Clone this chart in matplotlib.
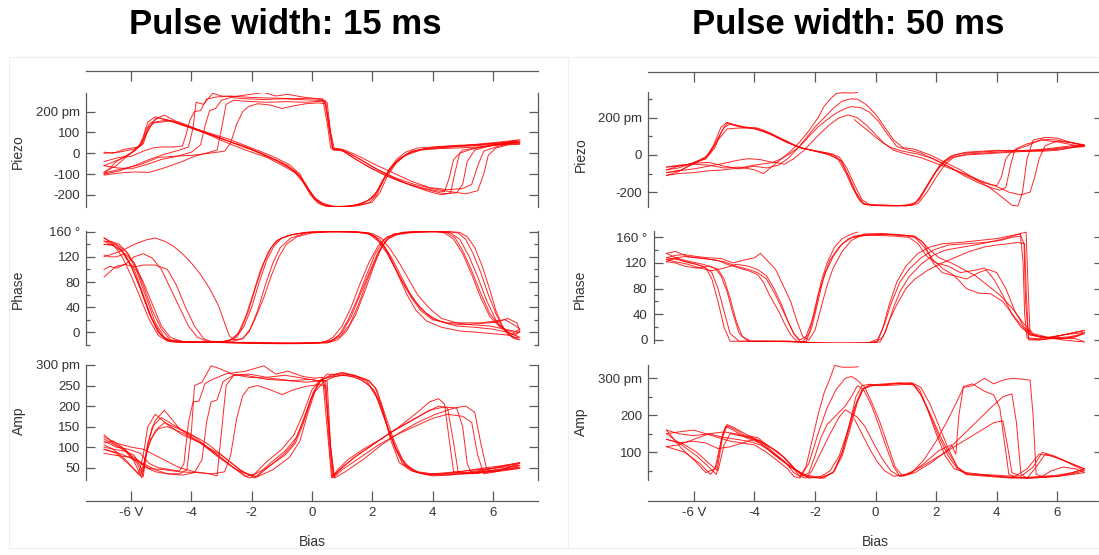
import matplotlib.pyplot as plt
from matplotlib.patches import Rectangle

plt.rcParams["font.family"] = ["Liberation Sans", "DejaVu Sans"]

# %% data: bias (V) / signal pairs, one list per sweep
piezo_15 = [
    [(-6.9, -100), (-6.4, -85), (-5.9, -60), (-5.4, -30), (-4.9, -5), (-4.4, 15), (-4.1, 30), (-3.95, 120),
     (-3.85, 245), (-3.6, 235), (-3.3, 288), (-3.0, 275), (-2.6, 272), (-2.1, 282), (-1.6, 292), (-1.2, 275),
     (-0.8, 283), (-0.3, 270), (0.1, 262), (0.35, 262), (0.5, 150), (0.62, 25), (0.9, 22), (1.3, -15),
     (1.8, -60), (2.4, -105), (3.0, -140), (3.6, -165), (4.1, -180), (4.4, -185), (4.55, -120), (4.7, -30),
     (5.0, 15), (5.6, 30), (6.2, 42), (6.9, 52),
     (6.3, 45), (5.6, 38), (5.0, 33), (4.4, 28), (3.8, 22), (3.3, 10), (2.9, -25), (2.6, -70), (2.3, -140),
     (2.1, -200), (1.8, -232), (1.4, -252), (1.0, -258), (0.6, -257), (0.3, -245), (0.05, -210), (-0.2, -150),
     (-0.45, -100), (-0.8, -60), (-1.3, -25), (-2.0, 20), (-2.6, 50), (-3.2, 80), (-3.8, 110), (-4.4, 145),
     (-4.9, 183), (-5.2, 165), (-5.45, 110), (-5.6, 45), (-5.9, 20), (-6.4, 5), (-6.9, 0)],
    [(-6.9, -60), (-6.5, -70), (-6.0, -75), (-5.5, -55), (-5.0, -30), (-4.5, -15), (-4.0, 5), (-3.7, 40),
     (-3.55, 130), (-3.4, 205), (-3.2, 215), (-3.0, 255), (-2.7, 268), (-2.2, 262), (-1.6, 258), (-1.0, 262),
     (-0.4, 258), (0.1, 255), (0.45, 252), (0.58, 120), (0.7, 20), (1.0, 15), (1.5, -20), (2.0, -65),
     (2.6, -110), (3.2, -150), (3.8, -175), (4.4, -195), (4.8, -190), (5.0, -150), (5.15, -40), (5.4, 15),
     (5.9, 35), (6.4, 45), (6.9, 60),
     (6.2, 48), (5.5, 40), (4.8, 35), (4.1, 30), (3.6, 18), (3.2, 0), (2.8, -40), (2.5, -95), (2.2, -175),
     (1.9, -225), (1.5, -248), (1.1, -256), (0.7, -255), (0.35, -240), (0.1, -215), (-0.15, -165),
     (-0.4, -115), (-0.7, -75), (-1.2, -35), (-1.9, 10), (-2.6, 48), (-3.3, 88), (-4.0, 125), (-4.6, 150),
     (-5.1, 170), (-5.4, 140), (-5.6, 60), (-5.9, 10), (-6.4, -30), (-6.9, -60)],
    [(-6.9, -105), (-6.4, -95), (-5.9, -90), (-5.4, -92), (-4.9, -70), (-4.4, -45), (-3.9, -15), (-3.4, 5),
     (-3.15, 15), (-3.0, 120), (-2.85, 235), (-2.6, 255), (-2.2, 250), (-1.5, 245), (-0.8, 248), (-0.2, 245),
     (0.3, 250), (0.5, 245), (0.62, 100), (0.75, 15), (1.1, 10), (1.6, -30), (2.2, -80), (2.8, -120),
     (3.4, -150), (4.0, -170), (4.6, -185), (5.1, -195), (5.5, -180), (5.7, -100), (5.85, -10), (6.1, 25),
     (6.5, 40), (6.9, 45),
     (6.2, 40), (5.5, 30), (4.8, 25), (4.2, 22), (3.6, 15), (3.1, -10), (2.8, -45), (2.5, -110), (2.25, -190),
     (2.0, -235), (1.6, -250), (1.2, -256), (0.8, -257), (0.45, -250), (0.15, -225), (-0.1, -180),
     (-0.35, -120), (-0.6, -85), (-1.0, -45), (-1.7, 0), (-2.4, 40), (-3.1, 75), (-3.8, 115), (-4.4, 150),
     (-4.8, 160), (-5.2, 150), (-5.5, 120), (-5.65, 40), (-6.0, 0), (-6.5, -40), (-6.9, -100)],
    [(-6.9, -95), (-6.3, -75), (-5.7, -55), (-5.1, -20), (-4.6, -15), (-4.0, -10), (-3.4, 0), (-2.9, 10),
     (-2.7, 50), (-2.5, 140), (-2.3, 200), (-2.1, 225), (-1.8, 238), (-1.4, 232), (-1.0, 215), (-0.6, 228),
     (-0.2, 238), (0.2, 242), (0.45, 238), (0.55, 130), (0.68, 20), (0.95, 18), (1.4, -25), (2.0, -75),
     (2.6, -115), (3.3, -155), (3.9, -185), (4.3, -200), (4.6, -190), (4.75, -90), (4.9, 0), (5.3, 20),
     (5.9, 35), (6.4, 50), (6.9, 65),
     (6.3, 55), (5.6, 45), (4.9, 35), (4.3, 28), (3.7, 20), (3.3, 5), (3.0, -20), (2.7, -60), (2.4, -120),
     (2.15, -200), (1.9, -238), (1.5, -252), (1.1, -257), (0.7, -256), (0.4, -248), (0.1, -225),
     (-0.15, -170), (-0.4, -100), (-0.75, -55), (-1.3, -15), (-2.0, 25), (-2.8, 70), (-3.6, 105),
     (-4.3, 135), (-4.8, 160), (-5.2, 175), (-5.45, 150), (-5.6, 80), (-5.75, 30), (-6.2, 20), (-6.6, 0),
     (-6.9, 5)],
    [(-6.9, -40), (-6.4, -20), (-6.0, -15), (-5.6, 10), (-5.3, 25), (-5.0, 30), (-4.6, 30), (-4.3, 35),
     (-4.2, 80), (-4.05, 160), (-3.9, 200), (-3.7, 205), (-3.5, 260), (-3.2, 270), (-2.7, 275), (-2.0, 268),
     (-1.3, 265), (-0.6, 262), (0.0, 265), (0.4, 255), (0.55, 160), (0.7, 15), (1.0, 20), (1.5, -10),
     (2.1, -55), (2.7, -95), (3.3, -135), (3.9, -165), (4.5, -175), (5.0, -170), (5.3, -150), (5.5, -60),
     (5.7, 10), (6.1, 30), (6.5, 45), (6.9, 55),
     (6.2, 50), (5.5, 42), (4.8, 38), (4.0, 30), (3.5, 25), (3.1, 5), (2.8, -30), (2.55, -80), (2.3, -150),
     (2.05, -210), (1.7, -240), (1.3, -252), (0.9, -256), (0.5, -257), (0.2, -240), (-0.05, -200),
     (-0.3, -140), (-0.55, -95), (-0.9, -65), (-1.5, -20), (-2.2, 15), (-2.9, 55), (-3.6, 100), (-4.2, 130),
     (-4.7, 155), (-5.0, 150), (-5.3, 145), (-5.5, 90), (-5.7, 40), (-6.1, -10), (-6.5, -60), (-6.9, -90)],
]

phase_15 = [
    [(-6.9, 150), (-6.6, 140), (-6.3, 120), (-6.0, 90), (-5.7, 55), (-5.4, 20), (-5.1, -5), (-4.8, -14),
     (-4.3, -16), (-3.5, -16), (-2.9, -15), (-2.6, -10), (-2.35, 5), (-2.1, 35), (-1.85, 75), (-1.6, 110),
     (-1.35, 135), (-1.1, 148), (-0.7, 155), (-0.2, 159), (0.5, 160), (1.2, 160), (1.8, 158), (2.1, 152),
     (2.4, 135), (2.7, 108), (3.0, 80), (3.3, 55), (3.6, 35), (4.0, 20), (4.5, 15), (5.0, 15), (5.6, 15),
     (6.1, 18), (6.4, 20), (6.7, 12), (6.9, 5),
     (6.7, 0), (6.45, 3), (6.2, 12), (5.9, 30), (5.6, 62), (5.3, 98), (5.0, 130), (4.75, 150), (4.5, 158),
     (4.2, 160), (3.5, 160), (3.1, 159), (2.7, 156), (2.4, 148), (2.1, 125), (1.8, 90), (1.5, 52), (1.2, 20),
     (0.9, -5), (0.6, -15), (0.2, -17), (-0.8, -17), (-1.9, -16), (-3.0, -16), (-4.0, -16), (-4.7, -15),
     (-5.0, -5), (-5.3, 20), (-5.6, 60), (-5.9, 100), (-6.3, 130), (-6.6, 143), (-6.9, 145)],
    [(-6.9, 140), (-6.5, 140), (-6.2, 130), (-5.9, 110), (-5.6, 75), (-5.3, 35), (-5.0, 5), (-4.7, -12),
     (-4.2, -15), (-3.4, -16), (-2.8, -14), (-2.5, -8), (-2.25, 10), (-2.0, 40), (-1.75, 80), (-1.5, 115),
     (-1.25, 138), (-1.0, 150), (-0.6, 156), (0.0, 160), (0.8, 160), (1.5, 159), (1.9, 156), (2.2, 145),
     (2.5, 125), (2.8, 98), (3.1, 72), (3.4, 50), (3.8, 30), (4.2, 18), (4.8, 10), (5.4, 8), (6.0, 5),
     (6.5, 0), (6.9, -8),
     (6.7, -8), (6.5, -2), (6.3, 10), (6.1, 30), (5.85, 60), (5.6, 95), (5.35, 125), (5.1, 148), (4.85, 158),
     (4.5, 160), (3.9, 160), (3.2, 158), (2.8, 155), (2.5, 148), (2.2, 128), (1.9, 95), (1.6, 60), (1.3, 25),
     (1.0, 0), (0.7, -12), (0.3, -16), (-0.5, -17), (-1.5, -17), (-2.5, -16), (-3.5, -16), (-4.3, -15),
     (-4.7, -8), (-5.0, 10), (-5.3, 45), (-5.6, 80), (-5.9, 110), (-6.2, 125), (-6.5, 120), (-6.7, 120),
     (-6.9, 123)],
    [(-6.9, 120), (-6.6, 125), (-6.3, 130), (-5.9, 140), (-5.5, 147), (-5.2, 150), (-4.9, 145), (-4.6, 137),
     (-4.3, 125), (-4.0, 110), (-3.7, 92), (-3.4, 70), (-3.1, 42), (-2.9, 15), (-2.75, -5), (-2.6, -12),
     (-2.3, -10), (-2.1, 0), (-1.9, 20), (-1.6, 55), (-1.35, 90), (-1.1, 120), (-0.85, 140), (-0.5, 152),
     (0.0, 158), (0.6, 160), (1.4, 160), (2.0, 157), (2.3, 150), (2.6, 132), (2.9, 110), (3.2, 85),
     (3.5, 60), (3.9, 38), (4.3, 22), (4.8, 15), (5.3, 12), (5.9, 10), (6.4, 5), (6.9, 0),
     (6.6, -3), (6.35, 5), (6.1, 20), (5.8, 50), (5.5, 88), (5.2, 122), (4.9, 148), (4.6, 158), (4.3, 160),
     (3.6, 161), (3.0, 159), (2.5, 152), (2.2, 138), (1.9, 112), (1.6, 78), (1.3, 40), (1.0, 10), (0.7, -8),
     (0.4, -16), (-0.5, -18), (-1.6, -18), (-2.6, -17), (-3.3, -16), (-3.6, -10), (-3.9, 10), (-4.2, 40),
     (-4.5, 75), (-4.8, 100), (-5.2, 107), (-5.6, 107), (-5.9, 104), (-6.2, 108), (-6.5, 105), (-6.9, 88)],
    [(-6.9, 100), (-6.7, 105), (-6.5, 102), (-6.2, 108), (-5.9, 120), (-5.6, 125), (-5.3, 118), (-5.0, 100),
     (-4.7, 70), (-4.4, 40), (-4.1, 10), (-3.8, -8), (-3.5, -14), (-3.0, -15), (-2.6, -14), (-2.3, -10),
     (-2.05, 5), (-1.8, 35), (-1.55, 75), (-1.3, 110), (-1.05, 135), (-0.7, 150), (-0.2, 158), (0.6, 160),
     (1.5, 160), (1.9, 158), (2.25, 148), (2.55, 125), (2.85, 92), (3.15, 60), (3.45, 35), (3.8, 18),
     (4.3, 8), (4.9, 2), (5.5, 0), (6.2, -3), (6.6, -5), (6.9, -12),
     (6.7, -10), (6.5, -3), (6.3, 12), (6.1, 35), (5.9, 68), (5.65, 105), (5.4, 135), (5.15, 152),
     (4.9, 159), (4.6, 160), (3.9, 160), (3.3, 159), (2.9, 157), (2.55, 150), (2.3, 135), (2.05, 105),
     (1.75, 65), (1.45, 28), (1.15, 2), (0.85, -12), (0.5, -17), (-0.3, -18), (-1.2, -18), (-2.2, -17),
     (-3.2, -16), (-4.2, -16), (-4.8, -13), (-5.1, 0), (-5.4, 30), (-5.7, 70), (-6.0, 105), (-6.3, 130),
     (-6.6, 138), (-6.9, 140)],
    [(-6.9, 145), (-6.6, 138), (-6.3, 128), (-6.0, 105), (-5.7, 70), (-5.4, 30), (-5.1, 0), (-4.8, -13),
     (-4.3, -15), (-3.6, -15), (-3.0, -15), (-2.7, -12), (-2.45, -2), (-2.2, 25), (-1.95, 62), (-1.7, 100),
     (-1.45, 128), (-1.2, 145), (-0.8, 154), (-0.3, 158), (0.4, 160), (1.2, 160), (1.8, 158), (2.05, 153),
     (2.35, 140), (2.65, 118), (2.95, 90), (3.25, 62), (3.6, 38), (4.0, 22), (4.5, 14), (5.0, 12),
     (5.6, 14), (6.1, 16), (6.5, 22), (6.8, 15), (6.9, 2),
     (6.75, -5), (6.5, 0), (6.2, 10), (5.9, 25), (5.6, 55), (5.3, 92), (5.0, 125), (4.7, 148), (4.4, 158),
     (4.1, 160), (3.5, 160), (3.0, 158), (2.7, 156), (2.45, 146), (2.15, 120), (1.85, 85), (1.55, 45),
     (1.25, 12), (0.95, -6), (0.6, -15), (0.1, -17), (-1.0, -18), (-2.0, -17), (-3.0, -16), (-4.0, -16),
     (-4.6, -15), (-4.9, -8), (-5.2, 15), (-5.5, 55), (-5.8, 95), (-6.1, 125), (-6.4, 140), (-6.7, 145),
     (-6.9, 150)],
]

amp_15 = [
    [(-6.9, 100), (-6.6, 95), (-6.2, 90), (-5.8, 70), (-5.5, 50), (-5.2, 40), (-4.8, 35), (-4.4, 35),
     (-4.15, 45), (-4.0, 140), (-3.9, 250), (-3.65, 258), (-3.35, 298), (-3.1, 292), (-2.7, 280), (-2.2, 285),
     (-1.6, 298), (-1.2, 278), (-0.8, 285), (-0.3, 272), (0.1, 268), (0.35, 270), (0.5, 150), (0.65, 25),
     (0.85, 45), (1.2, 70), (1.7, 95), (2.3, 120), (2.9, 150), (3.5, 185), (3.9, 210), (4.2, 218),
     (4.4, 205), (4.55, 120), (4.7, 40), (5.0, 35), (5.6, 38), (6.2, 45), (6.9, 50),
     (6.4, 48), (5.8, 42), (5.2, 38), (4.6, 32), (4.0, 30), (3.5, 38), (3.1, 55), (2.8, 90), (2.5, 150),
     (2.2, 215), (1.9, 250), (1.5, 270), (1.1, 275), (0.7, 272), (0.3, 265), (0.05, 230), (-0.25, 170),
     (-0.6, 110), (-0.9, 85), (-1.3, 60), (-1.8, 30), (-2.1, 25), (-2.6, 50), (-3.2, 85), (-3.8, 115),
     (-4.4, 145), (-4.9, 190), (-5.2, 165), (-5.45, 110), (-5.6, 28), (-5.8, 60), (-6.2, 95), (-6.6, 110),
     (-6.9, 130)],
    [(-6.9, 85), (-6.5, 80), (-6.0, 75), (-5.6, 60), (-5.2, 45), (-4.8, 35), (-4.3, 32), (-3.9, 38),
     (-3.65, 70), (-3.5, 160), (-3.35, 210), (-3.15, 215), (-2.95, 260), (-2.6, 275), (-2.1, 278), (-1.5, 270),
     (-0.9, 275), (-0.3, 268), (0.15, 262), (0.45, 262), (0.6, 110), (0.72, 30), (1.0, 50), (1.5, 80),
     (2.1, 110), (2.7, 140), (3.3, 165), (3.9, 190), (4.4, 198), (4.8, 195), (5.0, 150), (5.15, 60),
     (5.3, 35), (5.8, 40), (6.3, 45), (6.9, 48),
     (6.3, 42), (5.7, 38), (5.1, 35), (4.5, 33), (3.9, 32), (3.4, 40), (3.0, 60), (2.7, 110), (2.4, 170),
     (2.1, 230), (1.8, 262), (1.4, 275), (1.0, 280), (0.6, 272), (0.25, 262), (0.0, 240), (-0.3, 180),
     (-0.6, 130), (-1.0, 95), (-1.5, 65), (-1.9, 35), (-2.2, 28), (-2.7, 55), (-3.3, 90), (-3.9, 125),
     (-4.5, 150), (-5.0, 172), (-5.3, 150), (-5.5, 90), (-5.65, 25), (-5.9, 65), (-6.3, 100), (-6.6, 115),
     (-6.9, 110)],
    [(-6.9, 125), (-6.5, 110), (-6.0, 100), (-5.6, 95), (-5.2, 80), (-4.8, 65), (-4.4, 50), (-3.9, 40),
     (-3.4, 35), (-3.15, 30), (-3.0, 140), (-2.85, 250), (-2.6, 275), (-2.2, 275), (-1.5, 265), (-0.8, 262),
     (-0.2, 258), (0.3, 262), (0.5, 262), (0.62, 100), (0.75, 25), (1.1, 40), (1.7, 70), (2.3, 105),
     (2.9, 135), (3.5, 160), (4.1, 180), (4.7, 195), (5.1, 200), (5.4, 185), (5.6, 110), (5.8, 45),
     (6.1, 40), (6.5, 50), (6.9, 60),
     (6.3, 52), (5.7, 45), (5.1, 38), (4.5, 35), (3.9, 33), (3.3, 42), (2.9, 62), (2.6, 120), (2.35, 190),
     (2.1, 245), (1.8, 265), (1.4, 275), (1.0, 282), (0.6, 275), (0.3, 262), (0.05, 235), (-0.2, 185),
     (-0.5, 125), (-0.9, 90), (-1.4, 60), (-1.85, 28), (-2.3, 40), (-2.9, 75), (-3.5, 110), (-4.1, 135),
     (-4.6, 150), (-4.9, 160), (-5.2, 140), (-5.45, 100), (-5.6, 40), (-5.9, 80), (-6.3, 95), (-6.9, 120)],
    [(-6.9, 95), (-6.4, 85), (-5.9, 70), (-5.4, 48), (-4.9, 45), (-4.4, 40), (-3.8, 38), (-3.3, 35),
     (-2.9, 40), (-2.7, 80), (-2.5, 170), (-2.3, 225), (-2.1, 245), (-1.8, 250), (-1.4, 240), (-1.0, 228),
     (-0.6, 240), (-0.2, 248), (0.2, 252), (0.45, 250), (0.55, 130), (0.68, 28), (0.95, 48), (1.4, 75),
     (2.0, 105), (2.6, 135), (3.2, 160), (3.8, 185), (4.2, 200), (4.5, 195), (4.7, 110), (4.85, 40),
     (5.2, 35), (5.8, 45), (6.4, 55), (6.9, 62),
     (6.3, 55), (5.6, 48), (4.9, 40), (4.3, 35), (3.7, 35), (3.3, 45), (3.0, 70), (2.7, 120), (2.4, 185),
     (2.15, 240), (1.9, 262), (1.5, 272), (1.1, 278), (0.7, 270), (0.4, 260), (0.1, 235), (-0.15, 180),
     (-0.4, 115), (-0.75, 75), (-1.3, 45), (-1.9, 25), (-2.4, 45), (-3.0, 80), (-3.7, 110), (-4.3, 130),
     (-4.8, 155), (-5.2, 180), (-5.45, 150), (-5.6, 80), (-5.75, 35), (-6.2, 70), (-6.6, 95), (-6.9, 105)],
    [(-6.9, 115), (-6.5, 100), (-6.1, 95), (-5.7, 85), (-5.4, 60), (-5.1, 50), (-4.7, 45), (-4.4, 42),
     (-4.25, 60), (-4.1, 160), (-3.95, 210), (-3.75, 212), (-3.55, 255), (-3.3, 265), (-2.8, 280),
     (-2.1, 270), (-1.4, 268), (-0.7, 262), (0.0, 265), (0.4, 258), (0.55, 160), (0.7, 25), (1.0, 45),
     (1.6, 75), (2.2, 105), (2.8, 130), (3.4, 150), (4.0, 170), (4.5, 180), (5.0, 175), (5.3, 160),
     (5.5, 80), (5.7, 35), (6.1, 40), (6.5, 50), (6.9, 55),
     (6.2, 50), (5.5, 45), (4.8, 40), (4.0, 35), (3.5, 40), (3.1, 58), (2.8, 95), (2.55, 140), (2.3, 200),
     (2.05, 240), (1.7, 262), (1.3, 272), (0.9, 276), (0.5, 278), (0.2, 255), (-0.05, 215), (-0.3, 155),
     (-0.55, 110), (-0.9, 80), (-1.5, 50), (-2.0, 30), (-2.5, 45), (-3.1, 75), (-3.7, 110), (-4.3, 135),
     (-4.8, 150), (-5.1, 145), (-5.35, 120), (-5.55, 70), (-5.7, 30), (-6.1, 60), (-6.5, 85), (-6.9, 95)],
]

piezo_50 = [
    [(-0.7, 190), (-0.4, 150), (-0.1, 110), (0.2, 70), (0.5, 40), (0.9, 20), (1.4, 5), (1.9, -20),
     (2.4, -60), (2.9, -110), (3.4, -150), (3.8, -175), (4.1, -190), (4.3, -175), (4.45, -60), (4.6, 30),
     (5.0, 60), (5.5, 80), (6.0, 70), (6.5, 55), (6.9, 45),
     (6.5, 40), (6.0, 30), (5.5, 25), (5.0, 20), (4.5, 15), (4.0, 10), (3.5, 5), (3.0, 0), (2.5, -15),
     (2.1, -60), (1.8, -140), (1.5, -220), (1.25, -268), (0.8, -272), (0.3, -270), (-0.2, -268),
     (-0.45, -240), (-0.7, -160), (-0.95, -70), (-1.2, -10), (-1.6, 10), (-2.1, 25), (-2.5, 40), (-3.0, 80),
     (-3.5, 120), (-3.9, 145), (-4.3, 150), (-4.6, 160), (-4.9, 170), (-5.1, 120), (-5.3, 40), (-5.6, -20),
     (-6.0, -40), (-6.5, -70), (-6.9, -80)],
    [(-6.9, -80), (-6.5, -60), (-6.0, -45), (-5.5, -40), (-5.0, -60), (-4.5, -75), (-4.0, -60), (-3.6, -70),
     (-3.2, -55), (-2.9, -20), (-2.6, 30), (-2.3, 90), (-2.0, 150), (-1.7, 200), (-1.4, 250), (-1.1, 290),
     (-0.8, 302), (-0.6, 300), (-0.3, 270), (0.0, 220), (0.3, 150), (0.6, 80), (0.9, 40), (1.3, 30),
     (1.8, 0), (2.3, -40), (2.8, -80), (3.3, -130), (3.8, -180), (4.2, -230), (4.5, -270), (4.7, -275),
     (4.85, -200), (5.0, -20), (5.2, 80), (5.6, 95), (6.0, 90), (6.4, 70), (6.9, 50),
     (6.5, 40), (6.0, 25), (5.5, 20), (5.0, 20), (4.4, 25), (3.9, 20), (3.4, 15), (2.9, 10), (2.5, -5),
     (2.2, -40), (1.9, -110), (1.6, -190), (1.35, -255), (1.0, -270), (0.5, -275), (0.0, -272),
     (-0.4, -265), (-0.6, -225), (-0.85, -130), (-1.1, -40), (-1.4, 5), (-1.9, 20), (-2.4, 35), (-2.9, 65),
     (-3.4, 105), (-3.9, 140), (-4.4, 148), (-4.8, 165), (-5.0, 150), (-5.3, 60), (-5.6, -10), (-6.1, -50),
     (-6.5, -90), (-6.9, -110)],
    [(-6.9, -110), (-6.5, -100), (-6.0, -95), (-5.5, -85), (-5.0, -80), (-4.5, -70), (-4.0, -55),
     (-3.6, -45), (-3.3, -40), (-3.0, -50), (-2.7, -20), (-2.4, 20), (-2.1, 70), (-1.8, 120), (-1.5, 165),
     (-1.2, 200), (-0.9, 215), (-0.6, 200), (-0.3, 160), (0.0, 110), (0.3, 60), (0.6, 25), (1.0, 5),
     (1.5, -15), (2.0, -45), (2.5, -75), (3.0, -105), (3.5, -140), (4.0, -170), (4.4, -200), (4.8, -215),
     (5.1, -200), (5.25, -120), (5.4, -20), (5.6, 50), (6.0, 75), (6.5, 65), (6.9, 55),
     (6.5, 50), (6.0, 40), (5.5, 30), (5.0, 25), (4.5, 22), (4.0, 25), (3.5, 20), (3.0, 15), (2.6, 0),
     (2.3, -30), (2.0, -90), (1.7, -170), (1.45, -240), (1.2, -270), (0.7, -273), (0.2, -270), (-0.3, -268),
     (-0.5, -250), (-0.75, -180), (-1.0, -90), (-1.25, -20), (-1.6, 5), (-2.1, 25), (-2.6, 45), (-3.1, 85),
     (-3.6, 125), (-4.0, 145), (-4.5, 145), (-4.9, 140), (-5.2, 80), (-5.5, 0), (-5.9, -40), (-6.4, -80),
     (-6.9, -95)],
    [(-6.9, -95), (-6.5, -85), (-6.0, -75), (-5.5, -60), (-5.0, -45), (-4.6, -30), (-4.2, -20), (-3.8, -25),
     (-3.4, -40), (-3.1, -20), (-2.8, 10), (-2.5, 45), (-2.2, 100), (-1.9, 150), (-1.6, 190), (-1.3, 225),
     (-1.0, 250), (-0.8, 260), (-0.5, 255), (-0.2, 230), (0.1, 180), (0.4, 110), (0.7, 45), (1.0, 30),
     (1.5, 10), (2.0, -30), (2.5, -70), (3.0, -110), (3.4, -140), (3.8, -160), (4.0, -165), (4.15, -120),
     (4.3, -20), (4.5, 20), (5.0, 50), (5.5, 85), (6.0, 80), (6.5, 65), (6.9, 50),
     (6.5, 45), (6.0, 35), (5.5, 28), (5.0, 22), (4.5, 20), (4.0, 15), (3.5, 10), (3.0, 5), (2.6, -10),
     (2.3, -50), (2.0, -120), (1.7, -200), (1.4, -262), (1.0, -275), (0.5, -272), (0.0, -270), (-0.4, -262),
     (-0.65, -200), (-0.9, -110), (-1.15, -30), (-1.5, 0), (-2.0, 20), (-2.5, 40), (-3.0, 75), (-3.5, 115),
     (-4.0, 140), (-4.5, 155), (-4.9, 175), (-5.1, 150), (-5.35, 50), (-5.6, -20), (-6.0, -45), (-6.5, -60),
     (-6.9, -65)],
    [(-6.9, -65), (-6.5, -55), (-6.0, -50), (-5.5, -55), (-5.0, -70), (-4.5, -65), (-4.0, -80), (-3.7, -100),
     (-3.4, -60), (-3.1, -20), (-2.8, 20), (-2.5, 70), (-2.2, 130), (-1.9, 200), (-1.7, 260), (-1.5, 300),
     (-1.3, 330), (-1.1, 335), (-0.8, 333), (-0.6, 336)],
]

phase_50 = [
    [(-0.7, 160), (-0.3, 163), (0.3, 165), (0.9, 163), (1.3, 160), (1.6, 145), (1.9, 125), (2.2, 112),
     (2.6, 100), (3.0, 80), (3.4, 73), (3.8, 72), (4.2, 60), (4.6, 35), (5.0, 12), (5.4, 5), (5.9, 3),
     (6.4, 5), (6.9, 10),
     (6.6, 5), (6.2, 2), (5.8, 2), (5.4, 0), (5.05, 2), (4.95, 60), (4.9, 150), (4.8, 162), (4.5, 160),
     (4.1, 155), (3.6, 152), (3.0, 150), (2.4, 148), (1.9, 140), (1.5, 128), (1.1, 110), (0.8, 90),
     (0.5, 55), (0.3, 25), (0.1, 2), (-0.2, -4), (-0.8, -5), (-1.5, -5), (-2.2, -4), (-2.8, -2), (-3.5, -2),
     (-4.2, -2), (-4.8, -2), (-5.0, 20), (-5.2, 60), (-5.4, 95), (-5.6, 112), (-5.9, 118), (-6.3, 122),
     (-6.6, 128), (-6.9, 135)],
    [(-6.9, 135), (-6.6, 138), (-6.2, 130), (-5.8, 128), (-5.4, 125), (-5.0, 122), (-4.6, 115), (-4.2, 110),
     (-3.9, 105), (-3.6, 95), (-3.3, 70), (-3.0, 40), (-2.7, 10), (-2.5, -2), (-2.3, -3), (-2.1, 20),
     (-1.9, 60), (-1.7, 100), (-1.5, 125), (-1.2, 145), (-0.9, 158), (-0.5, 163), (0.0, 163), (0.6, 162),
     (1.1, 160), (1.4, 150), (1.7, 130), (2.0, 120), (2.4, 115), (2.8, 105), (3.2, 108), (3.6, 112),
     (3.9, 95), (4.2, 70), (4.5, 40), (4.8, 20), (5.1, 8), (5.6, 3), (6.1, 2), (6.6, 5), (6.9, 12),
     (6.6, 10), (6.2, 8), (5.8, 5), (5.4, 2), (5.0, 3), (4.92, 40), (4.87, 120), (4.78, 165), (4.4, 162),
     (4.0, 158), (3.4, 155), (2.8, 152), (2.2, 150), (1.8, 145), (1.4, 135), (1.0, 115), (0.7, 90),
     (0.45, 55), (0.25, 20), (0.05, -2), (-0.3, -5), (-1.0, -5), (-1.8, -5), (-2.4, -3), (-3.0, -2),
     (-3.8, -2), (-4.5, -2), (-4.8, 10), (-5.0, 45), (-5.2, 80), (-5.4, 105), (-5.7, 115), (-6.1, 120),
     (-6.5, 125), (-6.9, 128)],
    [(-6.9, 128), (-6.6, 132), (-6.3, 133), (-5.9, 130), (-5.5, 128), (-5.1, 127), (-4.7, 120), (-4.3, 125),
     (-4.0, 128), (-3.8, 135), (-3.6, 125), (-3.3, 110), (-3.0, 80), (-2.8, 60), (-2.6, 30), (-2.4, 5),
     (-2.2, 0), (-2.0, 15), (-1.8, 50), (-1.6, 85), (-1.4, 112), (-1.1, 138), (-0.8, 155), (-0.4, 165),
     (0.2, 166), (0.8, 164), (1.2, 162), (1.5, 155), (1.8, 140), (2.1, 128), (2.5, 120), (2.9, 110),
     (3.3, 100), (3.7, 85), (4.1, 70), (4.5, 50), (4.9, 25), (5.2, 10), (5.7, 4), (6.2, 3), (6.6, 2),
     (6.9, -3),
     (6.6, -2), (6.2, 0), (5.8, 3), (5.4, 5), (5.1, 8), (5.02, 100), (4.97, 168), (4.7, 165), (4.4, 160),
     (4.0, 155), (3.5, 150), (2.9, 145), (2.3, 140), (1.9, 132), (1.5, 118), (1.1, 98), (0.8, 75),
     (0.55, 45), (0.35, 15), (0.15, -3), (-0.2, -5), (-0.9, -5), (-1.7, -5), (-2.3, -4), (-2.9, -2),
     (-3.6, -2), (-4.2, -2), (-4.5, 10), (-4.7, 40), (-4.9, 75), (-5.1, 100), (-5.3, 112), (-5.7, 118),
     (-6.2, 123), (-6.6, 128), (-6.9, 125)],
    [(-6.9, 125), (-6.6, 122), (-6.2, 118), (-5.8, 112), (-5.4, 108), (-5.0, 112), (-4.6, 118), (-4.2, 115),
     (-3.9, 110), (-3.6, 100), (-3.35, 80), (-3.1, 55), (-2.9, 30), (-2.7, 10), (-2.5, 0), (-2.3, 5),
     (-2.1, 30), (-1.9, 70), (-1.65, 105), (-1.4, 130), (-1.1, 150), (-0.7, 162), (-0.2, 165), (0.5, 164),
     (1.0, 163), (1.3, 162), (1.6, 150), (1.9, 120), (2.2, 105), (2.6, 100), (3.0, 95), (3.4, 105),
     (3.7, 110), (4.0, 105), (4.3, 80), (4.6, 45), (4.9, 20), (5.2, 8), (5.7, 3), (6.2, 8), (6.6, 12),
     (6.9, 15),
     (6.6, 12), (6.2, 8), (5.8, 3), (5.4, 0), (5.05, 0), (4.97, 80), (4.92, 150), (4.7, 152), (4.4, 150),
     (4.0, 148), (3.6, 145), (3.1, 138), (2.6, 128), (2.1, 118), (1.7, 108), (1.3, 95), (1.0, 80),
     (0.7, 55), (0.45, 30), (0.25, 5), (0.0, -4), (-0.6, -5), (-1.4, -5), (-2.1, -4), (-2.8, -3),
     (-3.5, -2), (-4.1, -2), (-4.4, 5), (-4.6, 30), (-4.8, 65), (-5.0, 95), (-5.2, 110), (-5.5, 115),
     (-5.9, 112), (-6.3, 115), (-6.6, 120), (-6.9, 122)],
    [(-6.9, 122), (-6.6, 128), (-6.3, 130), (-5.9, 128), (-5.5, 126), (-5.2, 124), (-4.9, 118), (-4.5, 112),
     (-4.2, 108), (-3.9, 102), (-3.7, 90), (-3.5, 70), (-3.2, 45), (-3.0, 25), (-2.8, 8), (-2.6, -2),
     (-2.4, -3), (-2.2, 10), (-2.0, 45), (-1.8, 90), (-1.6, 120), (-1.35, 145), (-1.1, 158), (-0.8, 165),
     (-0.6, 168)],
]

amp_50 = [
    [(-0.7, 190), (-0.45, 150), (-0.2, 110), (0.05, 75), (0.3, 50), (0.6, 35), (1.0, 40), (1.5, 60),
     (2.0, 85), (2.5, 110), (3.0, 135), (3.5, 160), (3.9, 180), (4.2, 185), (4.35, 120), (4.5, 45),
     (4.8, 35), (5.2, 60), (5.5, 100), (5.9, 90), (6.3, 75), (6.9, 55),
     (6.5, 45), (6.0, 35), (5.5, 32), (5.0, 30), (4.5, 32), (4.0, 35), (3.5, 40), (3.0, 42), (2.7, 60),
     (2.4, 100), (2.1, 150), (1.8, 205), (1.5, 255), (1.25, 285), (0.8, 288), (0.3, 285), (-0.2, 282),
     (-0.45, 270), (-0.7, 220), (-0.95, 150), (-1.2, 90), (-1.5, 50), (-1.8, 35), (-2.2, 30), (-2.6, 50),
     (-3.0, 85), (-3.5, 115), (-3.9, 140), (-4.3, 145), (-4.6, 160), (-4.9, 172), (-5.05, 140),
     (-5.25, 40), (-5.5, 60), (-5.9, 90), (-6.4, 120), (-6.9, 150)],
    [(-6.9, 150), (-6.5, 155), (-6.0, 160), (-5.6, 150), (-5.2, 140), (-4.8, 130), (-4.4, 125), (-4.0, 120),
     (-3.6, 100), (-3.2, 75), (-2.9, 55), (-2.7, 35), (-2.5, 30), (-2.2, 70), (-1.9, 150), (-1.6, 220),
     (-1.3, 270), (-1.0, 300), (-0.8, 305), (-0.6, 295), (-0.35, 275), (-0.1, 230), (0.15, 180), (0.4, 120),
     (0.65, 60), (0.9, 35), (1.3, 45), (1.8, 70), (2.3, 100), (2.8, 140), (3.3, 180), (3.8, 220), (4.2, 250),
     (4.5, 258), (4.65, 180), (4.8, 40), (5.0, 30), (5.3, 60), (5.6, 95), (6.0, 85), (6.4, 70), (6.9, 50),
     (6.5, 42), (6.0, 35), (5.5, 32), (5.0, 30), (4.5, 35), (4.0, 38), (3.5, 40), (3.0, 45), (2.6, 55),
     (2.3, 90), (2.0, 150), (1.7, 220), (1.45, 270), (1.2, 285), (0.7, 282), (0.2, 280), (-0.2, 284),
     (-0.45, 280), (-0.65, 250), (-0.85, 180), (-1.1, 100), (-1.4, 45), (-1.8, 30), (-2.3, 35), (-2.8, 60),
     (-3.3, 90), (-3.8, 125), (-4.3, 140), (-4.7, 160), (-4.95, 170), (-5.1, 130), (-5.3, 55), (-5.6, 45),
     (-6.0, 80), (-6.4, 110), (-6.9, 160)],
    [(-6.9, 160), (-6.5, 150), (-6.0, 145), (-5.5, 150), (-5.0, 155), (-4.6, 150), (-4.2, 140), (-3.8, 130),
     (-3.4, 110), (-3.0, 85), (-2.7, 55), (-2.5, 35), (-2.3, 30), (-2.1, 50), (-1.8, 100), (-1.5, 150),
     (-1.2, 195), (-1.0, 215), (-0.8, 205), (-0.6, 195), (-0.35, 170), (-0.1, 130), (0.2, 85), (0.5, 50),
     (0.8, 35), (1.2, 45), (1.6, 80), (2.0, 130), (2.4, 190), (2.7, 240), (2.9, 275), (3.2, 280), (3.6, 300),
     (3.9, 285), (4.2, 295), (4.5, 300), (4.8, 298), (5.1, 295), (5.2, 200), (5.3, 40), (5.5, 35),
     (5.8, 50), (6.2, 60), (6.6, 55), (6.9, 45),
     (6.5, 40), (6.0, 35), (5.5, 33), (5.0, 30), (4.5, 32), (4.0, 35), (3.5, 38), (3.0, 40), (2.7, 55),
     (2.4, 90), (2.1, 140), (1.8, 200), (1.5, 255), (1.25, 282), (0.8, 286), (0.3, 283), (-0.1, 280),
     (-0.4, 272), (-0.6, 240), (-0.85, 170), (-1.1, 100), (-1.35, 50), (-1.7, 30), (-2.2, 32), (-2.7, 55),
     (-3.2, 85), (-3.7, 118), (-4.1, 140), (-4.5, 145), (-4.8, 150), (-5.0, 120), (-5.2, 50), (-5.5, 70),
     (-5.9, 100), (-6.4, 125), (-6.9, 135)],
    [(-6.9, 135), (-6.5, 125), (-6.0, 130), (-5.6, 125), (-5.2, 110), (-4.8, 115), (-4.4, 125), (-4.0, 135),
     (-3.6, 120), (-3.2, 100), (-2.9, 75), (-2.6, 50), (-2.4, 35), (-2.2, 45), (-2.0, 90), (-1.8, 140),
     (-1.6, 175), (-1.3, 200), (-1.0, 225), (-0.8, 250), (-0.6, 280), (-0.4, 270), (-0.15, 230), (0.1, 175),
     (0.35, 115), (0.6, 60), (0.8, 35), (1.2, 45), (1.6, 70), (2.1, 105), (2.5, 120), (2.65, 95),
     (2.75, 200), (2.9, 278), (3.2, 285), (3.6, 265), (3.9, 255), (4.1, 220), (4.25, 130), (4.4, 40),
     (4.6, 35), (5.0, 55), (5.4, 95), (5.8, 90), (6.3, 75), (6.9, 55),
     (6.5, 45), (6.0, 38), (5.5, 35), (5.0, 32), (4.5, 30), (4.0, 33), (3.5, 36), (3.0, 40), (2.7, 60),
     (2.4, 110), (2.1, 170), (1.8, 230), (1.5, 275), (1.2, 288), (0.7, 286), (0.2, 282), (-0.2, 280),
     (-0.4, 272), (-0.6, 235), (-0.85, 160), (-1.1, 90), (-1.4, 45), (-1.8, 32), (-2.3, 38), (-2.8, 60),
     (-3.3, 95), (-3.8, 130), (-4.3, 150), (-4.7, 168), (-4.9, 175), (-5.05, 150), (-5.25, 60),
     (-5.45, 40), (-5.8, 70), (-6.3, 100), (-6.9, 115)],
    [(-6.9, 115), (-6.5, 120), (-6.0, 135), (-5.5, 150), (-5.0, 140), (-4.6, 135), (-4.2, 130), (-3.8, 120),
     (-3.4, 100), (-3.0, 75), (-2.7, 45), (-2.5, 35), (-2.3, 60), (-2.1, 130), (-1.9, 200), (-1.7, 260),
     (-1.5, 300), (-1.35, 335), (-1.1, 330), (-0.8, 330), (-0.58, 331)],
]

bias_ticks = [-6, -4, -2, 0, 2, 4, 6]
bias_labels = ["-6 V", "-4", "-2", "0", "2", "4", "6"]

# %% layout (pixel boxes of the original screenshot)
W, H = 1099, 555
AXC = "#5a5a5a"
TXT = "#333333"
RED = "#ff0000"

fig = plt.figure(figsize=(W / 100, H / 100), dpi=100)
fig.patch.set_facecolor("white")

for x0, x1 in [(8.5, 568), (568, 1098.5)]:
    fig.add_artist(Rectangle((x0 / W, 1 - 548 / H), (x1 - x0) / W, (548 - 56.7) / H,
                             transform=fig.transFigure, fill=False, ec="#f0f0f0", lw=0.8))


def make_axes(x0, x1, y0, y1, xlim=(-7.5, 7.5)):
    ax = fig.add_axes([x0 / W, 1 - y1 / H, (x1 - x0) / W, (y1 - y0) / H])
    ax.patch.set_alpha(0)
    ax.set_xlim(*xlim)
    for s in ["top", "bottom"]:
        ax.spines[s].set_visible(False)
    for s in ["left", "right", "top", "bottom"]:
        ax.spines[s].set_color(AXC)
        ax.spines[s].set_linewidth(0.9)
    ax.set_xticks(bias_ticks)
    ax.tick_params(axis="x", which="both", bottom=False, top=False,
                   labelbottom=False, labeltop=False)
    ax.tick_params(axis="y", which="both", direction="in", left=True, right=True,
                   color=AXC, width=0.9, labelsize=9.5, labelcolor=TXT, pad=4.3)
    ax.tick_params(axis="y", which="major", length=6.5)
    ax.tick_params(axis="y", which="minor", length=3.2)
    return ax


def draw(ax, traces):
    for tr in traces:
        ax.plot([p[0] for p in tr], [p[1] for p in tr], color=RED, lw=0.7, alpha=0.85)


def top_axis(ax, offset):
    ax.spines["top"].set_visible(True)
    ax.spines["top"].set_position(("outward", offset))
    ax.tick_params(axis="x", which="major", top=True, direction="in", length=7.2,
                   color=AXC, width=0.9)


def bottom_axis(ax, offset):
    ax.spines["bottom"].set_visible(True)
    ax.spines["bottom"].set_position(("outward", offset))
    ax.set_xticklabels(bias_labels)
    ax.tick_params(axis="x", which="major", bottom=True, labelbottom=True, direction="in",
                   length=7.0, color=AXC, width=0.9, labelsize=9.5, labelcolor=TXT, pad=4.5)


# left figure: 15 ms
ax = make_axes(86, 538, 92.7, 206.7)
draw(ax, piezo_15)
ax.set_ylim(-257, 291)
ax.set_yticks([-200, -100, 0, 100, 200])
ax.set_yticklabels(["-200", "-100", "0", "100", "200 pm"])
top_axis(ax, 15.3)

ax = make_axes(86, 538, 230.7, 345)
draw(ax, phase_15)
ax.set_ylim(-20.2, 161.6)
ax.set_yticks([0, 40, 80, 120, 160])
ax.set_yticklabels(["0", "40", "80", "120", "160 °"])
ax.set_yticks([-20, 20, 60, 100, 140], minor=True)

ax = make_axes(86, 538, 365, 480)
draw(ax, amp_15)
ax.set_ylim(20, 300)
ax.set_yticks([50, 100, 150, 200, 250, 300])
ax.set_yticklabels(["50", "100", "150", "200", "250", "300 pm"])
bottom_axis(ax, 15.1)

# right figure: 50 ms
ax = make_axes(648.3, 1102.8, 92.3, 207.3)
draw(ax, piezo_50)
ax.set_ylim(-281.5, 337)
ax.set_yticks([-200, 0, 200])
ax.set_yticklabels(["-200", "0", "200 pm"])
ax.set_yticks([-100, 100, 300], minor=True)
top_axis(ax, 14.8)

ax = make_axes(653.5, 1102.8, 230.7, 343.3, xlim=(-7.5 + 5.2 / 30.3, 7.5))
draw(ax, phase_50)
ax.set_ylim(-5.2, 170.3)
ax.set_yticks([0, 40, 80, 120, 160])
ax.set_yticklabels(["0", "40", "80", "120", "160 °"])
ax.set_yticks([20, 60, 100, 140], minor=True)

ax = make_axes(648.3, 1102.8, 365, 480)
draw(ax, amp_50)
ax.set_ylim(25, 336)
ax.set_yticks([100, 200, 300])
ax.set_yticklabels(["100", "200", "300 pm"])
ax.set_yticks([50, 150, 250], minor=True)
bottom_axis(ax, 14.9)

# axis titles
for x, y, s in [(18, 152, "Piezo"), (18, 289, "Phase"), (19, 421, "Amp"),
                (581, 155, "Piezo"), (580, 289, "Phase"), (581, 422, "Amp")]:
    fig.text(x / W, 1 - y / H, s, rotation=90, ha="center", va="center",
             fontsize=10, color=TXT)
for x in [312, 875.6]:
    fig.text(x / W, 1 - 541.7 / H, "Bias", ha="center", va="center", fontsize=10, color=TXT)

fig.text(284.8 / W, 1 - 24.5 / H, "Pulse width: 15 ms", ha="center", va="center",
         fontsize=25, fontweight="bold", color="black")
fig.text(848.5 / W, 1 - 24.5 / H, "Pulse width: 50 ms", ha="center", va="center",
         fontsize=25, fontweight="bold", color="black")

plt.savefig("out.png", dpi=100)
